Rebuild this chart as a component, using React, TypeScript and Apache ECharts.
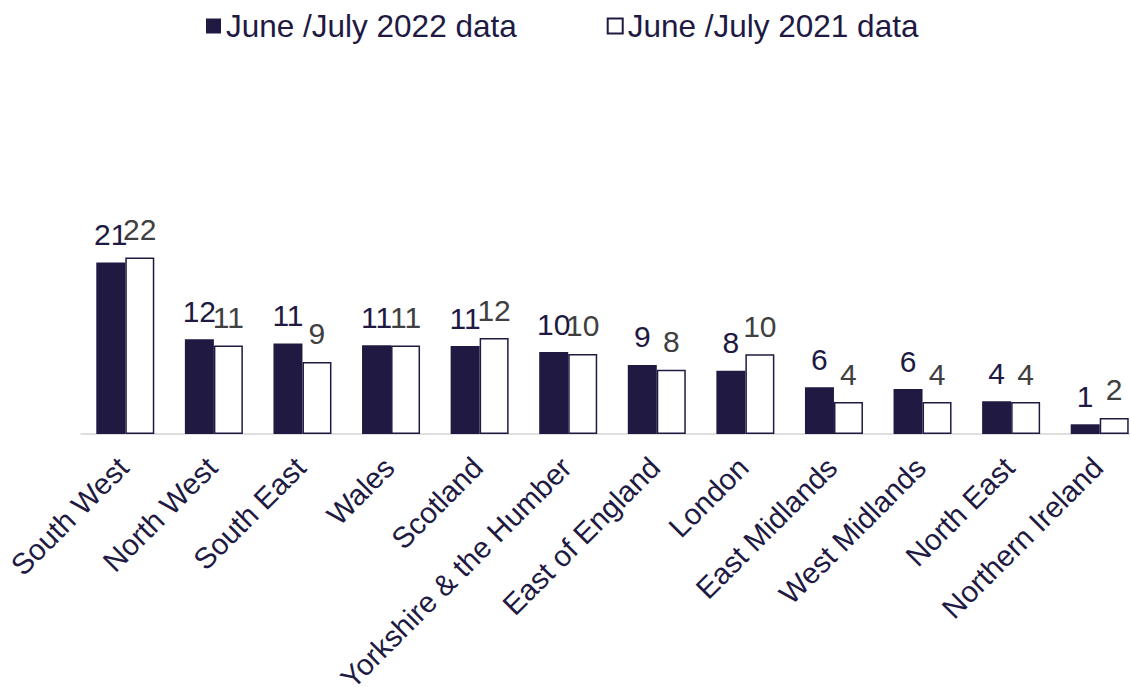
import React, { useEffect, useRef } from "react";
import * as echarts from "echarts";

const regions = [
  "South West",
  "North West",
  "South East",
  "Wales",
  "Scotland",
  "Yorkshire & the Humber",
  "East of England",
  "London",
  "East Midlands",
  "West Midlands",
  "North East",
  "Northern Ireland",
];

const data2022 = [21.17, 11.7, 11.17, 10.96, 10.86, 10.12, 8.52, 7.81, 5.78, 5.55, 4.04, 1.2];
const data2021 = [21.79, 10.93, 8.89, 10.93, 11.85, 9.88, 7.94, 9.84, 3.95, 3.95, 3.95, 1.98];

const seriesNames = ["June /July 2022 data", "June /July 2021 data"];

const NAVY = "#201942";
const FONT = "'Liberation Sans', Arial, sans-serif";

export default function App() {
  const ref = useRef<HTMLDivElement>(null);

  useEffect(() => {
    if (!ref.current) return;
    const chart = echarts.init(ref.current, undefined, { renderer: "svg" });
    chart.setOption({
      animation: false,
      textStyle: { fontFamily: FONT },
      legend: {
        left: 201,
        top: 5,
        itemWidth: 15,
        itemHeight: 15,
        itemGap: 90,
        icon: "rect",
        textStyle: { fontSize: 31.5, color: NAVY, fontFamily: FONT },
        data: seriesNames,
      },
      grid: {
        left: 81,
        top: 191,
        width: 1063,
        height: 243,
        containLabel: false,
        outerBoundsMode: "none",
      },
      xAxis: {
        type: "category",
        data: regions,
        axisLine: { show: true, lineStyle: { color: "#d4d4d4", width: 1.5 } },
        axisTick: { show: false },
        axisLabel: {
          interval: 0,
          rotate: 45,
          verticalAlign: "top",
          margin: 5,
          padding: [0, 18, 0, 0],
          fontSize: 29.5,
          color: NAVY,
          fontFamily: FONT,
        },
      },
      yAxis: {
        type: "value",
        min: 0,
        max: 30,
        show: false,
        splitLine: { show: false },
      },
      series: [
        {
          name: seriesNames[0],
          type: "bar",
          data: data2022,
          barWidth: 29,
          barGap: "0%",
          itemStyle: { color: NAVY },
          label: {
            show: true,
            position: "top",
            distance: 13,
            fontSize: 30,
            color: NAVY,
            fontFamily: FONT,
            formatter: (p: any) => String(Math.round(p.value)),
          },
        },
        {
          name: seriesNames[1],
          type: "bar",
          data: data2021,
          barWidth: 29,
          barGap: "0%",
          itemStyle: { color: "#ffffff", borderColor: NAVY, borderWidth: 1.5 },
          label: {
            show: true,
            position: "top",
            distance: 13,
            fontSize: 30,
            color: "#404040",
            fontFamily: FONT,
            formatter: (p: any) => String(Math.round(p.value)),
          },
        },
      ],
    });
    return () => chart.dispose();
  }, []);

  return (
    <div
      ref={ref}
      style={{ position: "absolute", left: 0, top: 0, width: 1130, height: 687, background: "#ffffff" }}
    />
  );
}
